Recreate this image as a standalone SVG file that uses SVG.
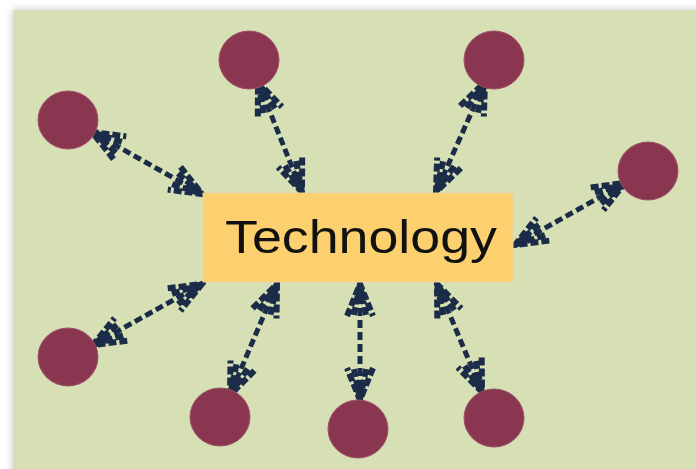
<svg xmlns="http://www.w3.org/2000/svg" width="696" height="469" viewBox="0 0 696 469">
<defs>
<filter id="sh" x="-5%" y="-5%" width="110%" height="110%"><feGaussianBlur stdDeviation="4"/></filter>
<marker id="ah" viewBox="-40 -20 44 40" refX="0" refY="0" markerWidth="44" markerHeight="40" markerUnits="userSpaceOnUse" orient="auto-start-reverse">
<path d="M-32,-13 L0,0 L-32,13 M-31,-6 L0,0 L-31,6 M-16,0 L0,0" fill="none" stroke="#1b2c48" stroke-width="6" stroke-dasharray="8 3"/>
</marker>
<style>
.n{fill:#8b3650;stroke:#9c5068;stroke-width:1}
.c{fill:none;stroke:#1b2c48;stroke-width:5;stroke-dasharray:8 4;marker-start:url(#ah);marker-end:url(#ah)}
</style>
</defs>
<rect width="696" height="469" fill="#ffffff"/>
<rect x="13" y="10" width="700" height="480" fill="#888" opacity="0.5" filter="url(#sh)"/>
<rect x="13" y="10" width="700" height="480" fill="#d7dfb5"/>
<g id="connectors">
<line class="c" x1="92" y1="132" x2="202" y2="194"/>
<line class="c" x1="258" y1="82" x2="302" y2="192"/>
<line class="c" x1="485" y1="82" x2="436" y2="192"/>
<line class="c" x1="625" y1="183" x2="515" y2="245"/>
<line class="c" x1="93" y1="345" x2="202" y2="284"/>
<line class="c" x1="277" y1="284" x2="230" y2="395"/>
<line class="c" x1="360" y1="284" x2="360" y2="400"/>
<line class="c" x1="437" y1="284" x2="482" y2="392"/>
</g>
<g id="tech">
<rect x="203" y="193" width="310" height="89" fill="#fcd06f" stroke="#e8d6a0" stroke-width="1"/>
<text x="225" y="253" font-family="'Liberation Sans', sans-serif" font-size="47" fill="#111" textLength="272" lengthAdjust="spacingAndGlyphs">Technology</text>
</g>
<g id="n1"><ellipse class="n" cx="68" cy="120" rx="30" ry="29"/></g>
<g id="n2"><ellipse class="n" cx="249" cy="60" rx="30" ry="29"/></g>
<g id="n3"><ellipse class="n" cx="494" cy="60" rx="30" ry="29"/></g>
<g id="n4"><ellipse class="n" cx="648" cy="171" rx="30" ry="29"/></g>
<g id="n5"><ellipse class="n" cx="68" cy="357" rx="30" ry="29"/></g>
<g id="n6"><ellipse class="n" cx="220" cy="417" rx="30" ry="29"/></g>
<g id="n7"><ellipse class="n" cx="358" cy="429" rx="30" ry="29"/></g>
<g id="n8"><ellipse class="n" cx="494" cy="418" rx="30" ry="29"/></g>
</svg>
